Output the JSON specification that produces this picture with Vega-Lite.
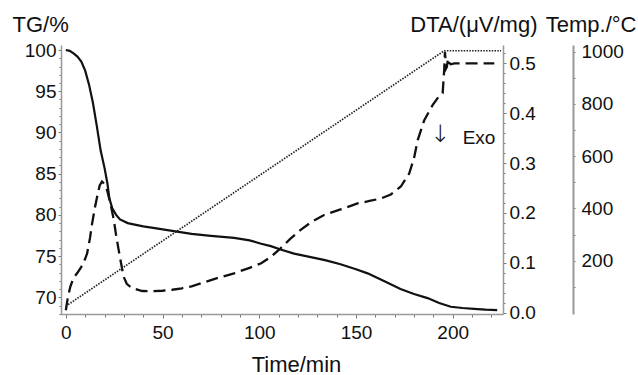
{
  "$schema": "https://vega.github.io/schema/vega-lite/v6.json",
  "width": 442,
  "height": 269,
  "autosize": "none",
  "padding": {"left": 61, "top": 45, "right": 135, "bottom": 61},
  "background": "white",
  "config": {
    "view": {"stroke": null},
    "font": "Liberation Sans",
    "axis": {
      "grid": false,
      "domainColor": "#999999",
      "domainWidth": 1.5,
      "tickColor": "#777777",
      "labelColor": "#111111",
      "labelFontSize": 19,
      "titleColor": "#111111",
      "titleFontSize": 22,
      "titleFontWeight": "normal",
      "labelFlush": false,
      "labelOverlap": false
    }
  },
  "datasets": {
    "tg": [
      {"t": 0, "v": 100.0}, {"t": 2, "v": 99.9}, {"t": 4, "v": 99.6}, {"t": 6, "v": 99.2},
      {"t": 8, "v": 98.6}, {"t": 10, "v": 97.5}, {"t": 12, "v": 95.8}, {"t": 14, "v": 93.6},
      {"t": 16, "v": 90.8}, {"t": 18, "v": 87.8}, {"t": 20, "v": 85.7}, {"t": 21.5, "v": 83.8},
      {"t": 22.5, "v": 82.0}, {"t": 24, "v": 80.8}, {"t": 26, "v": 80.0}, {"t": 28, "v": 79.45},
      {"t": 32, "v": 79.0}, {"t": 35, "v": 78.85}, {"t": 40, "v": 78.6}, {"t": 46, "v": 78.4},
      {"t": 55, "v": 78.05}, {"t": 65, "v": 77.7}, {"t": 75, "v": 77.45}, {"t": 87, "v": 77.2},
      {"t": 95, "v": 76.9}, {"t": 101, "v": 76.5}, {"t": 106, "v": 76.2}, {"t": 111, "v": 75.8},
      {"t": 118, "v": 75.3}, {"t": 126, "v": 74.9}, {"t": 134, "v": 74.5}, {"t": 142, "v": 74.0},
      {"t": 150, "v": 73.4}, {"t": 156, "v": 72.9}, {"t": 165, "v": 71.9}, {"t": 173, "v": 71.0},
      {"t": 180, "v": 70.4}, {"t": 187, "v": 69.9}, {"t": 193, "v": 69.3}, {"t": 199, "v": 68.85},
      {"t": 205, "v": 68.7}, {"t": 211, "v": 68.6}, {"t": 217, "v": 68.5}, {"t": 223, "v": 68.45}
    ],
    "dta": [
      {"t": 0, "v": 0.005}, {"t": 1, "v": 0.03}, {"t": 2.3, "v": 0.052}, {"t": 4, "v": 0.07},
      {"t": 6, "v": 0.08}, {"t": 8, "v": 0.092}, {"t": 10, "v": 0.108}, {"t": 11, "v": 0.119},
      {"t": 12.5, "v": 0.15}, {"t": 13.6, "v": 0.179}, {"t": 15, "v": 0.21}, {"t": 16.2, "v": 0.233},
      {"t": 17.5, "v": 0.255}, {"t": 18.7, "v": 0.263}, {"t": 20, "v": 0.258}, {"t": 21.3, "v": 0.246},
      {"t": 23, "v": 0.22}, {"t": 24.8, "v": 0.186}, {"t": 26, "v": 0.155}, {"t": 27.3, "v": 0.126},
      {"t": 28.6, "v": 0.098}, {"t": 29.9, "v": 0.072}, {"t": 31.5, "v": 0.058}, {"t": 34.3, "v": 0.049},
      {"t": 39.5, "v": 0.0435}, {"t": 45, "v": 0.043}, {"t": 50, "v": 0.044}, {"t": 55, "v": 0.046},
      {"t": 60, "v": 0.049}, {"t": 65, "v": 0.053}, {"t": 70, "v": 0.059}, {"t": 77, "v": 0.068},
      {"t": 87, "v": 0.079}, {"t": 95, "v": 0.09}, {"t": 101, "v": 0.099}, {"t": 106, "v": 0.112},
      {"t": 111, "v": 0.129}, {"t": 116, "v": 0.148}, {"t": 121.4, "v": 0.166}, {"t": 127, "v": 0.182},
      {"t": 133.5, "v": 0.196}, {"t": 142, "v": 0.207}, {"t": 150.8, "v": 0.219}, {"t": 157, "v": 0.224},
      {"t": 162.9, "v": 0.229}, {"t": 168, "v": 0.237}, {"t": 173.2, "v": 0.253}, {"t": 177.5, "v": 0.279},
      {"t": 180, "v": 0.31}, {"t": 181.9, "v": 0.346}, {"t": 185.3, "v": 0.386}, {"t": 189.6, "v": 0.416},
      {"t": 192.5, "v": 0.432}, {"t": 194.8, "v": 0.44}, {"t": 195.6, "v": 0.487}, {"t": 196, "v": 0.523},
      {"t": 196.6, "v": 0.49}, {"t": 197, "v": 0.493}, {"t": 197.6, "v": 0.51}, {"t": 198.2, "v": 0.501},
      {"t": 199, "v": 0.498}, {"t": 200.8, "v": 0.5}, {"t": 210, "v": 0.5}, {"t": 221.5, "v": 0.5}
    ],
    "notes": [
      {"t": 193.4, "v": 0.357, "label": "↓"},
      {"t": 213.6, "v": 0.35, "label": "Exo"}
    ],
    "temp": [
      {"t": 0, "v": 26}, {"t": 195.6, "v": 1003}, {"t": 225, "v": 1003}
    ]
  },
  "encoding": {
    "x": {
      "field": "t",
      "type": "quantitative",
      "scale": {"domain": [-2.5, 226], "nice": false, "zero": false},
      "axis": {
        "title": "Time/min",
        "values": [0, 10, 20, 30, 40, 50, 60, 70, 80, 90, 100, 110, 120, 130, 140, 150, 160, 170, 180, 190, 200, 210, 220],
        "labelExpr": "datum.value % 50 === 0 ? datum.label : ''",
        "tickSize": {"condition": {"test": "datum.value % 50 === 0", "value": 4}, "value": 3},
        "labelPadding": 5,
        "titleX": 235,
        "titleY": 57,
        "titleAlign": "center",
        "titleBaseline": "alphabetic"
      }
    }
  },
  "layer": [
    {
      "data": {"name": "tg"},
      "mark": {"type": "line", "color": "#111111", "strokeWidth": 2.2},
      "encoding": {
        "y": {
          "field": "v",
          "type": "quantitative",
          "scale": {"domain": [67.97, 100.61], "nice": false, "zero": false},
          "axis": {
            "orient": "left",
            "title": "TG/%",
            "values": [68, 69, 70, 71, 72, 73, 74, 75, 76, 77, 78, 79, 80, 81, 82, 83, 84, 85, 86, 87, 88, 89, 90, 91, 92, 93, 94, 95, 96, 97, 98, 99, 100],
            "labelExpr": "datum.value % 5 === 0 ? datum.label : ''",
            "tickSize": {"condition": {"test": "datum.value % 5 === 0", "value": 3}, "value": 2},
            "labelPadding": 2,
            "titleAngle": 0,
            "titleAlign": "left",
            "titleBaseline": "alphabetic",
            "titleX": -49,
            "titleY": -14
          }
        }
      }
    },
    {
      "encoding": {
        "y": {
          "field": "v",
          "type": "quantitative",
          "scale": {"domain": [-0.0026, 0.5367], "nice": false, "zero": false},
          "axis": {
            "orient": "right",
            "title": "DTA/(μV/mg)",
            "values": [0, 0.02, 0.04, 0.06, 0.08, 0.1, 0.12, 0.14, 0.16, 0.18, 0.2, 0.22, 0.24, 0.26, 0.28, 0.3, 0.32, 0.34, 0.36, 0.38, 0.4, 0.42, 0.44, 0.46, 0.48, 0.5, 0.52],
            "labelExpr": "round(datum.value * 100) % 10 === 0 ? format(datum.value, '.1f') : ''",
            "tickSize": {"condition": {"test": "round(datum.value * 100) % 10 === 0", "value": 3}, "value": 2},
            "labelPadding": 3,
            "titleAngle": 0,
            "titleAlign": "right",
            "titleBaseline": "alphabetic",
            "titleX": 34,
            "titleY": -14
          }
        }
      },
      "layer": [
        {
          "data": {"name": "dta"},
          "mark": {"type": "line", "color": "#111111", "strokeWidth": 2.3, "strokeDash": [12, 6]}
        },
        {
          "data": {"name": "notes"},
          "transform": [{"filter": "datum.label === '↓'"}],
          "mark": {"type": "text", "font": "DejaVu Sans", "fontSize": 24, "fontWeight": 300, "color": "#111111", "align": "center", "baseline": "middle"},
          "encoding": {"text": {"field": "label", "type": "nominal"}}
        },
        {
          "data": {"name": "notes"},
          "transform": [{"filter": "datum.label !== '↓'"}],
          "mark": {"type": "text", "fontSize": 19, "color": "#111111", "align": "center", "baseline": "middle"},
          "encoding": {"text": {"field": "label", "type": "nominal"}}
        }
      ]
    },
    {
      "data": {"name": "temp"},
      "mark": {"type": "line", "color": "#222222", "strokeWidth": 1.7, "strokeDash": [1.5, 1.3]},
      "encoding": {
        "y": {
          "field": "v",
          "type": "quantitative",
          "scale": {"domain": [-4, 1025], "nice": false, "zero": false},
          "axis": {
            "orient": "right",
            "offset": 70,
            "title": "Temp./°C",
            "values": [100, 200, 300, 400, 500, 600, 700, 800, 900, 1000],
            "labelExpr": "datum.value % 200 === 0 ? datum.label : ''",
            "format": "d",
            "tickSize": 2,
            "labelPadding": 6,
            "domainWidth": 2,
            "titleAngle": 0,
            "titleAlign": "right",
            "titleBaseline": "alphabetic",
            "titleX": 63,
            "titleY": -14
          }
        }
      }
    }
  ],
  "resolve": {"scale": {"y": "independent"}}
}
